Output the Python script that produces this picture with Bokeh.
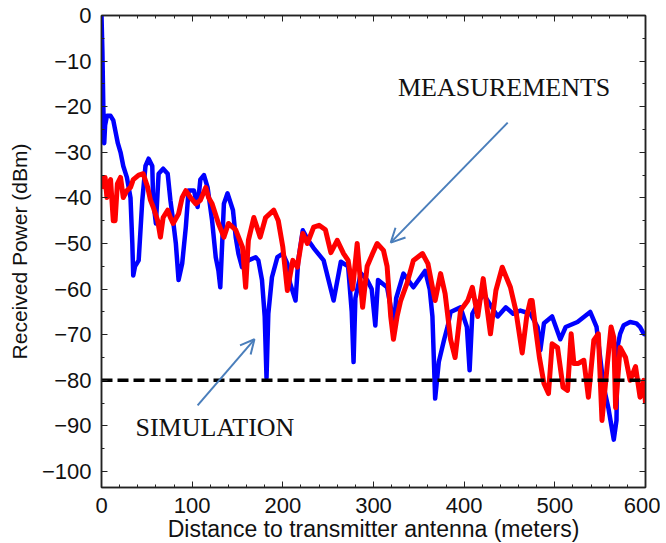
from bokeh.plotting import figure
from bokeh.models import (Range1d, LinearAxis, Arrow, OpenHead, Label,
                          SingleIntervalTicker, CustomJSTickFormatter)
from bokeh.embed import file_html
from bokeh.resources import INLINE

# Simulation (blue)
sim_x = [0, 1, 2, 3, 4, 6, 8, 10, 13, 16,
         18, 21, 24, 28, 32, 34, 35, 37, 41, 45,
         48.5, 52, 56, 57, 60, 63, 68, 73, 76, 79,
         82, 85, 89, 93, 96, 102, 106, 109, 113, 117,
         122, 126, 129, 131, 135, 139, 145, 148, 151, 155,
         162, 170, 173, 177, 180, 182, 184, 188, 194, 200,
         205, 208, 214, 217, 222, 228, 234, 245, 256, 264,
         272, 276, 278, 280, 286, 293, 298, 302, 305, 315,
         320, 322, 325, 333, 344, 357, 362, 365, 368, 372,
         378, 382, 385, 396, 403, 406, 409, 421, 437, 446,
         454, 462, 473, 481, 484, 488, 497, 506, 512, 525,
         539, 546, 550, 554, 559, 565, 568, 569, 572, 576,
         583, 590, 594, 598, 600]
sim_y = [0, -8, -20, -28, -24, -22, -22, -22, -23, -26,
         -28, -30, -33, -35.5, -40, -50, -57, -55, -53.7, -40.5,
         -33, -31.4, -33, -40.5, -45.6, -34.7, -33.6, -34.7, -40.5, -45,
         -50, -58, -54.4, -46.4, -38.4, -38.4, -42, -36, -35, -37.7,
         -45, -53, -56, -59.6, -41.3, -39, -42.7, -48.6, -52.2, -55.2,
         -53.7, -53, -53.7, -58, -66, -79.5, -65.4, -57.4, -53, -52.2,
         -54.4, -58.7, -62.5, -53.7, -47.1, -49.3, -51, -53.7, -62.5, -54,
         -55, -65, -76, -62, -56.5, -58, -60, -68, -58, -59.6,
         -65, -69.8, -62, -56.6, -59.6, -56, -60, -66, -84, -76,
         -71, -68, -65, -64, -68.3, -77.8, -65.4, -61, -66, -64,
         -65.4, -64.7, -65.4, -68.3, -73.4, -67.5, -66, -71, -68.3, -67.2,
         -65, -68.3, -75, -81.5, -86, -93, -88.8, -72.8, -69.8, -67.9,
         -67.2, -67.5, -68.3, -69.8, -70]

# Measurements (red)
meas_x = [0, 2, 4, 6, 8, 10, 13, 15, 17.5, 21,
          24, 28, 32, 35, 41, 46, 51, 54, 57, 62,
          65, 68, 73, 76, 79, 85, 89, 93, 98, 104,
          109, 115, 118, 122, 129, 135, 140, 148, 155.5, 159,
          162, 168, 175, 181, 190, 195, 200, 205, 211, 216,
          222, 227, 234, 240, 247, 253, 260, 267, 272, 277,
          282, 288, 293, 299, 304, 311, 315, 319, 322, 326,
          330, 337, 344, 354, 360, 365, 368, 374, 379, 385,
          390, 396, 404, 409, 415, 421, 429, 435, 442, 451,
          457, 464, 469, 473, 475, 479, 483, 488, 493, 497,
          503, 509, 514, 518, 521, 526, 532, 537, 543, 548,
          552, 558, 562, 565, 567, 572, 578, 583, 589, 594,
          598, 600]
meas_y = [-38, -35.5, -35.5, -39.9, -37, -36, -45, -45, -36.9, -35.5,
          -39.9, -38.4, -37.7, -36, -35, -34.7, -37.7, -40.5, -42, -45,
          -48.6, -44.3, -42.7, -44.3, -45.6, -43.5, -39.9, -38.4, -39.9, -41.3,
          -40.5, -37.7, -39.9, -41.3, -45.6, -48.6, -45.6, -47, -50.8, -59.6,
          -49.3, -44.3, -48.6, -44.3, -42.7, -45, -50.8, -60.3, -53.7, -55.2,
          -47.8, -50, -46.4, -46, -47, -52, -49.3, -52.2, -53.7, -60,
          -50, -64, -55, -52.2, -50, -51.5, -55, -66, -71, -66,
          -62.5, -58.7, -53.7, -52.2, -54.4, -59.6, -62.5, -56.6, -61, -71,
          -75, -64.7, -62.5, -59.6, -66, -57.7, -69.8, -60.3, -55.2, -59.6,
          -64.7, -74, -66, -62.5, -62.5, -69, -75, -80.7, -82.9, -72,
          -72.8, -81.5, -82.2, -69.8, -76.3, -76.3, -75.6, -83.7, -71.2, -69.8,
          -88.8, -76.3, -68.3, -70.6, -86, -72.8, -75, -80, -77, -83.7,
          -80, -85]

threshold_x = [0, 600]
threshold_y = [-80, -80]

x_label = "Distance to transmitter antenna (meters)"
y_label = "Received Power (dBm)"

AXC = "#222222"
ARROW_C = "#4A7EBB"

p = figure(frame_width=544, frame_height=472,
           x_range=Range1d(0, 600), y_range=Range1d(-103.5, 0),
           output_backend="svg", toolbar_location=None,
           min_border_left=101, min_border_top=15, min_border_right=15, min_border_bottom=10)
p.xgrid.visible = False
p.ygrid.visible = False
p.outline_line_color = AXC
p.outline_line_width = 1.5
p.background_fill_color = "white"
p.border_fill_color = "white"

p.xaxis.ticker = SingleIntervalTicker(interval=100, num_minor_ticks=5)
p.yaxis.ticker = SingleIntervalTicker(interval=10, num_minor_ticks=2)

for ax in [p.xaxis[0], p.yaxis[0]]:
    ax.axis_line_color = AXC
    ax.axis_line_width = 1.5
    ax.major_tick_line_color = AXC
    ax.minor_tick_line_color = AXC
    ax.major_tick_in = 6
    ax.major_tick_out = 0
    ax.minor_tick_in = 3
    ax.minor_tick_out = 0
    ax.major_label_text_font = "Liberation Sans"
    ax.major_label_text_font_size = "22px"
    ax.major_label_text_color = "#111111"
    ax.axis_label_text_font = "Liberation Sans"
    ax.axis_label_text_font_style = "normal"
    ax.axis_label_text_color = "#111111"

p.xaxis.axis_label = x_label
p.yaxis.axis_label = y_label
p.xaxis.axis_label_text_font_size = "23px"
p.yaxis.axis_label_text_font_size = "21px"
p.xaxis.major_label_standoff = 10
p.xaxis.axis_label_standoff = 0
p.yaxis.major_label_standoff = 10
p.yaxis.axis_label_standoff = 8

top = LinearAxis(ticker=SingleIntervalTicker(interval=100, num_minor_ticks=5))
right = LinearAxis(ticker=SingleIntervalTicker(interval=10, num_minor_ticks=2))
for ax in [top, right]:
    ax.axis_line_color = AXC
    ax.axis_line_width = 1.5
    ax.major_tick_line_color = AXC
    ax.minor_tick_line_color = AXC
    ax.major_tick_in = 6
    ax.major_tick_out = 0
    ax.minor_tick_in = 3
    ax.minor_tick_out = 0
    ax.formatter = CustomJSTickFormatter(code="return '';")
    ax.major_label_standoff = 0
p.add_layout(top, "above")
p.add_layout(right, "right")

p.line(sim_x, sim_y, line_color="#0000FF", line_width=4.5, line_join="round")
p.line(meas_x, meas_y, line_color="#FF0000", line_width=5, line_join="round")
p.line(threshold_x, threshold_y, line_color="black", line_width=3.5, line_dash="11 5")

p.add_layout(Label(x=327, y=-15.8, text="MEASUREMENTS", text_font="Liberation Serif",
                   text_font_size="26px", text_color="#111111", text_baseline="alphabetic"))
p.add_layout(Label(x=37.5, y=-90.3, text="SIMULATION", text_font="Liberation Serif",
                   text_font_size="26px", text_color="#111111", text_baseline="alphabetic"))

p.add_layout(Arrow(end=OpenHead(size=14, line_color=ARROW_C, line_width=2),
                   x_start=448, y_start=-23.5, x_end=319, y_end=-49.8,
                   line_color=ARROW_C, line_width=2))
p.add_layout(Arrow(end=OpenHead(size=14, line_color=ARROW_C, line_width=2),
                   x_start=106, y_start=-85.5, x_end=168.7, y_end=-71,
                   line_color=ARROW_C, line_width=2))

html = file_html(p, INLINE)
html = html.replace("<head>", "<head><style>html, body { overflow: hidden; }</style>", 1)
open("out.html", "w").write(html)
